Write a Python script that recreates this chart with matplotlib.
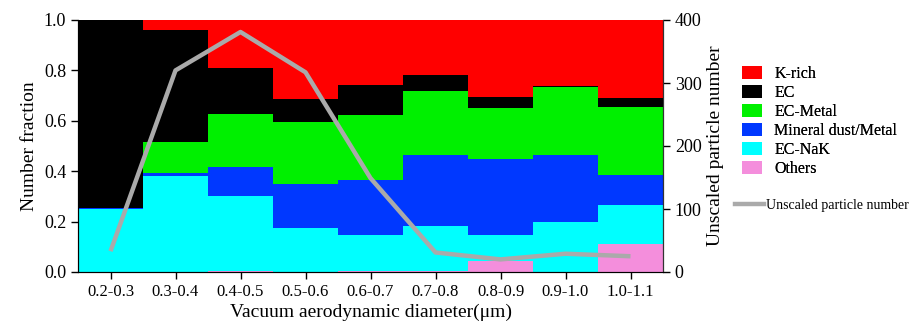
import matplotlib
matplotlib.use("Agg")
import matplotlib.pyplot as plt
import numpy as np
from matplotlib.patches import Patch
from matplotlib.lines import Line2D

plt.rcParams['font.family'] = ['Liberation Serif', 'DejaVu Serif']

categories = ["0.2-0.3", "0.3-0.4", "0.4-0.5", "0.5-0.6", "0.6-0.7",
              "0.7-0.8", "0.8-0.9", "0.9-1.0", "1.0-1.1"]
# per-class fractions
others  = [0.000, 0.000, 0.005, 0.000, 0.003, 0.003, 0.044, 0.000, 0.112]
ec_nak  = [0.250, 0.381, 0.295, 0.175, 0.143, 0.180, 0.103, 0.198, 0.155]
mineral = [0.003, 0.011, 0.117, 0.173, 0.219, 0.282, 0.301, 0.267, 0.117]
ec_metal = [0.000, 0.122, 0.211, 0.248, 0.259, 0.254, 0.201, 0.268, 0.269]
ec      = [0.747, 0.445, 0.180, 0.091, 0.120, 0.061, 0.047, 0.004, 0.038]
k_rich  = [0.000, 0.041, 0.192, 0.313, 0.256, 0.220, 0.304, 0.263, 0.309]
particle_number = [33, 320, 381, 317, 149, 31, 20, 29, 25]

series = [("Others", others, "#F48EDC"),
          ("EC-NaK", ec_nak, "#00FFFF"),
          ("Mineral dust/Metal", mineral, "#0038FF"),
          ("EC-Metal", ec_metal, "#00F000"),
          ("EC", ec, "#000000"),
          ("K-rich", k_rich, "#FF0000")]

fig = plt.figure(figsize=(9.18, 3.24), dpi=100)
ax = fig.add_axes([78/918, 1 - 272/324, 585/918, 252/324])
x = np.arange(len(categories))
bottom = np.zeros(len(categories))
handles = {}
for name, vals, col in series:
    vals = np.array(vals)
    ax.bar(x, vals, width=1.0, bottom=bottom, color=col, linewidth=0, align='center')
    handles[name] = Patch(facecolor=col, edgecolor='none')
    bottom += vals

ax.set_xlim(-0.5, len(categories) - 0.5)
ax.set_ylim(0, 1.0)
ax.set_yticks(np.arange(0, 1.01, 0.2))
ax.set_yticklabels([f"{v:.1f}" for v in np.arange(0, 1.01, 0.2)], fontsize=13)
ax.set_xticks(x)
ax.set_xticklabels(categories, fontsize=12)
ax.set_ylabel("Number fraction", fontsize=14)
ax.set_xlabel("Vacuum aerodynamic diameter(\u03bcm)", fontsize=14, labelpad=3)
ax.spines['top'].set_visible(False)
ax.spines['left'].set_color('#333333')
ax.spines['bottom'].set_color('#333333')
ax.tick_params(direction='out', length=5, width=1)

ax2 = ax.twinx()
ax2.plot(x, particle_number, color="#AAAAAA", linewidth=3.2, solid_capstyle='butt')
ax2.set_ylim(0, 400)
ax2.set_yticks([0, 100, 200, 300, 400])
ax2.tick_params(direction='out', length=5, width=1, labelsize=13)
ax2.set_ylabel("Unscaled particle number", fontsize=14)
ax2.spines['top'].set_visible(False)
ax2.spines['right'].set_color('#333333')

order = ["K-rich", "EC", "EC-Metal", "Mineral dust/Metal", "EC-NaK", "Others"]
leg1 = fig.legend([handles[n] for n in order], order, loc='upper left',
                  bbox_to_anchor=(736/918, 1 - 60/324), frameon=False, fontsize=11.5,
                  handlelength=1.25, handleheight=0.85, labelspacing=0.18, handletextpad=0.75,
                  borderaxespad=0)
fig.add_artist(leg1)
fig.legend([Line2D([0], [0], color="#AAAAAA", lw=3.2)], ["Unscaled particle number"],
           loc='upper left', bbox_to_anchor=(729/918, 1 - 193/324), frameon=False,
           fontsize=10, handlelength=2.1, handletextpad=0.2, borderaxespad=0)

fig.savefig("out.png", dpi=100)
